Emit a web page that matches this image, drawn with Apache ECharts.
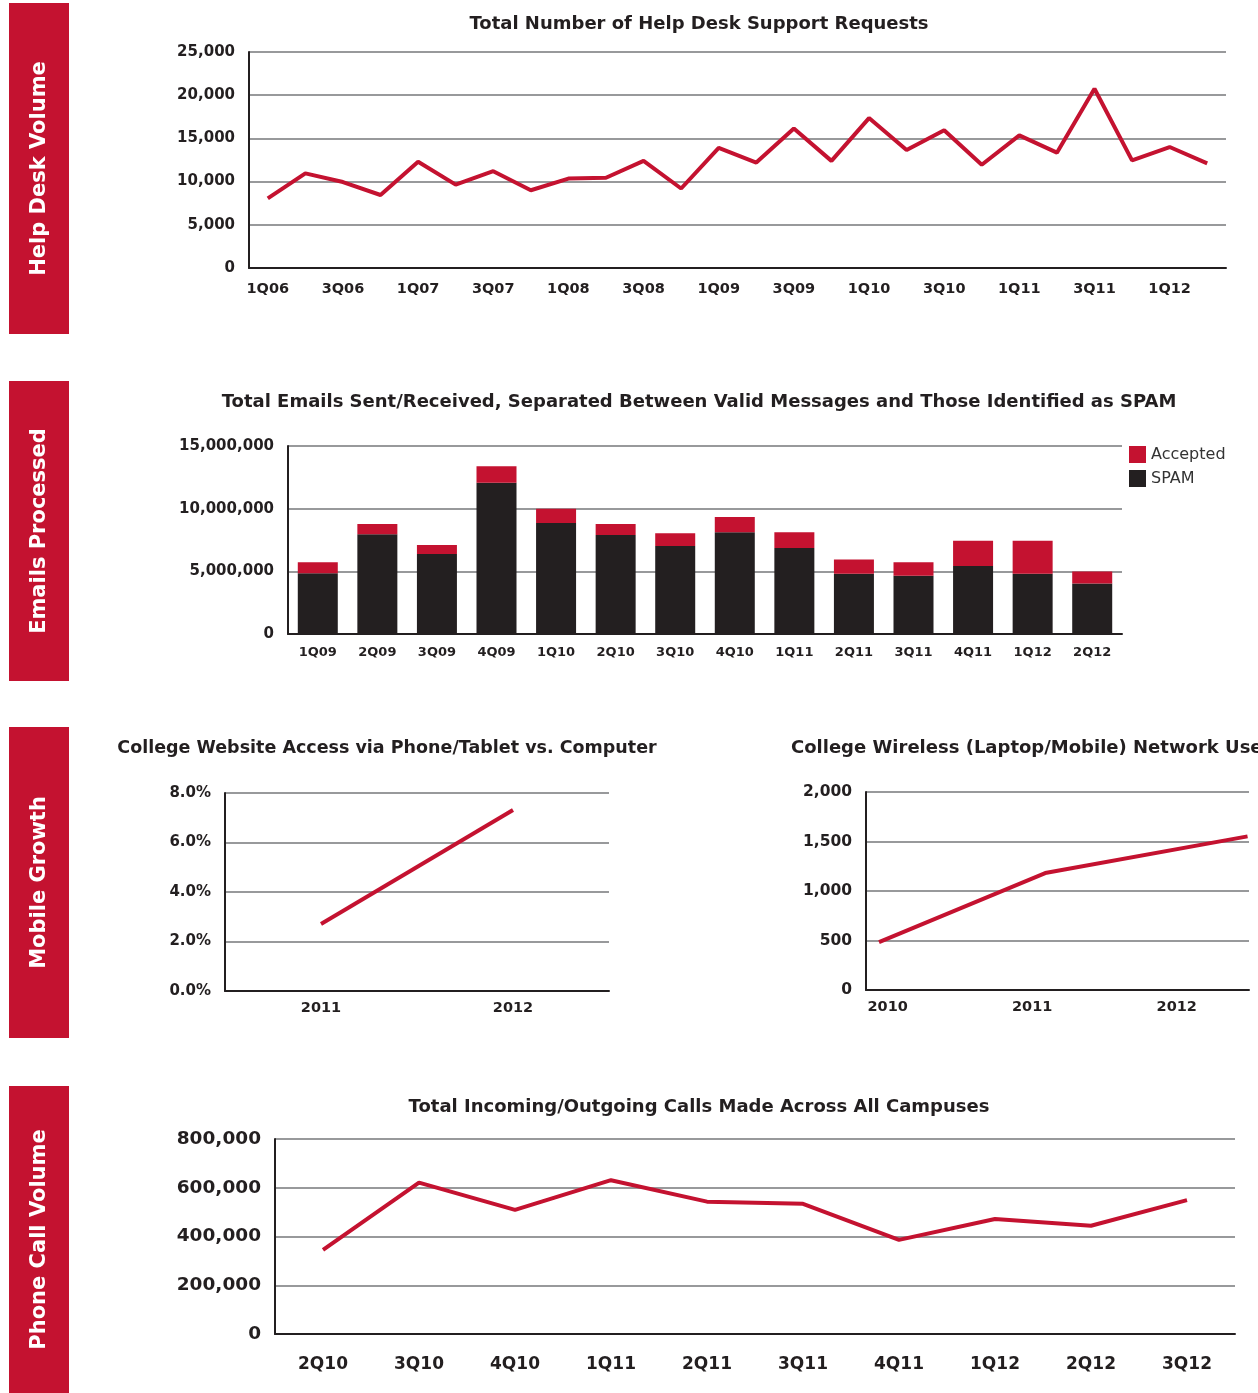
<!DOCTYPE html>
<html>
<head>
<meta charset="utf-8">
<script src="https://cdn.jsdelivr.net/npm/echarts@6/dist/echarts.min.js"></script>
<style>
  html, body { margin: 0; padding: 0; background: #fff; }
  #chart { width: 1258px; height: 1393px; }
</style>
</head>
<body>
<div id="chart"></div>
<script>
// help desk requests per quarter
const hdQuarters = ['1Q06','2Q06','3Q06','4Q06','1Q07','2Q07','3Q07','4Q07','1Q08','2Q08','3Q08','4Q08',
  '1Q09','2Q09','3Q09','4Q09','1Q10','2Q10','3Q10','4Q10','1Q11','2Q11','3Q11','4Q11','1Q12','2Q12'];
const hdRequests = [8050, 10950, 9950, 8450, 12300, 9650, 11200, 9000, 10350, 10450, 12400, 9200,
  13900, 12200, 16150, 12400, 17350, 13650, 15950, 11950, 15350, 13350, 20750, 12450, 14000, 12100];

// emails
const emailQuarters = ['1Q09','2Q09','3Q09','4Q09','1Q10','2Q10','3Q10','4Q10','1Q11','2Q11','3Q11','4Q11','1Q12','2Q12'];
const emailSpam = [4850000, 7950000, 6390000, 12060000, 8850000, 7900000, 7020000, 8110000, 6860000, 4800000, 4640000, 5430000, 4800000, 4030000];
const emailAccepted = [870000, 820000, 710000, 1320000, 1150000, 870000, 1010000, 1220000, 1250000, 1140000, 1080000, 2020000, 2650000, 950000];

// mobile growth
const webYears = ['2011', '2012'];
const webMobileShare = [2.71, 7.31];
const wirelessYears = [2009.94, 2011.09, 2012.49];
const wirelessUse = [483, 1181, 1552];
const wirelessTicks = [2010, 2011, 2012];

// phone calls
const callQuarters = ['2Q10','3Q10','4Q10','1Q11','2Q11','3Q11','4Q11','1Q12','2Q12','3Q12'];
const callVolume = [345000, 621000, 509000, 631000, 543000, 534000, 386000, 472000, 444000, 549000];

const RED = '#c41230';
const INK = '#231f20';
const GRID = '#98999b';
const FONT = '"DejaVu Sans", sans-serif';

const chart = echarts.init(document.getElementById('chart'));

const num = v => v.toLocaleString('en-US');

const valueY = (gridIndex, max, interval, size, fmt) => ({
  type: 'value',
  gridIndex: gridIndex,
  min: 0,
  max: max,
  interval: interval,
  axisLine: { show: true, lineStyle: { color: INK, width: 2 } },
  axisTick: { show: false },
  splitLine: { lineStyle: { color: GRID, width: 2 } },
  axisLabel: { color: INK, fontFamily: FONT, fontWeight: 'bold', fontSize: size, margin: 14, formatter: fmt || num }
});

const bottomLine = { show: true, lineStyle: { color: INK, width: 2 } };
const labelStyle = size => ({ color: INK, fontFamily: FONT, fontWeight: 'bold', fontSize: size });

// red side tabs
const tabs = [
  { text: 'Help Desk Volume', top: 3, bottom: 334 },
  { text: 'Emails Processed', top: 381, bottom: 681 },
  { text: 'Mobile Growth', top: 727, bottom: 1038 },
  { text: 'Phone Call Volume', top: 1086, bottom: 1393 }
];
const titles = [
  { text: 'Total Number of Help Desk Support Requests', x: 699, y: 24 },
  { text: 'Total Emails Sent/Received, Separated Between Valid Messages and Those Identified as SPAM', x: 699, y: 402 },
  { text: 'College Website Access via Phone/Tablet vs. Computer', x: 387, y: 748, size: 17.5 },
  { text: 'College Wireless (Laptop/Mobile) Network Use', x: 791, y: 748, align: 'left' },
  { text: 'Total Incoming/Outgoing Calls Made Across All Campuses', x: 699, y: 1107 }
];

const graphic = [];
tabs.forEach(t => {
  graphic.push({ type: 'rect', shape: { x: 9, y: t.top, width: 60, height: t.bottom - t.top }, style: { fill: RED } });
  graphic.push({
    type: 'text', x: 40, y: (t.top + t.bottom) / 2, rotation: Math.PI / 2,
    style: { text: t.text, fill: '#fff', font: 'bold 21px ' + FONT, textAlign: 'center', textVerticalAlign: 'middle' }
  });
});
titles.forEach(t => {
  graphic.push({
    type: 'text', x: t.x, y: t.y,
    style: { text: t.text, fill: INK, font: 'bold ' + (t.size || 18) + 'px ' + FONT, textAlign: t.align || 'center', textVerticalAlign: 'middle' }
  });
});

const option = {
  animation: false,
  backgroundColor: '#fff',
  graphic: graphic,
  legend: {
    data: ['Accepted', 'SPAM'],
    orient: 'vertical',
    left: 1129, top: 446, padding: 0,
    itemWidth: 17, itemHeight: 17, itemGap: 7,
    icon: 'rect',
    textStyle: { color: '#333', fontFamily: FONT, fontSize: 16 }
  },
  grid: [
    { left: 249, top: 52, width: 977, height: 216 },
    { left: 288, top: 446, width: 834, height: 188 },
    { left: 225, top: 793, width: 384, height: 198 },
    { left: 866, top: 792, width: 383, height: 198 },
    { left: 275, top: 1139, width: 960, height: 195 }
  ],
  xAxis: [
    {
      type: 'category', gridIndex: 0, data: hdQuarters,
      axisLine: bottomLine,
      axisTick: { interval: 0, length: 5, lineStyle: { color: INK, width: 2 } },
      axisLabel: Object.assign({ interval: 1, margin: 14 }, labelStyle(14.5))
    },
    {
      type: 'category', gridIndex: 0, data: hdQuarters, position: 'bottom',
      axisLine: { show: false },
      axisTick: { interval: 0, inside: true, length: 4, lineStyle: { color: INK, width: 2 } },
      axisLabel: { show: false }
    },
    {
      type: 'category', gridIndex: 1, data: emailQuarters,
      axisLine: bottomLine, axisTick: { show: false },
      axisLabel: Object.assign({ interval: 0, margin: 12 }, labelStyle(13))
    },
    {
      type: 'category', gridIndex: 2, data: webYears,
      axisLine: bottomLine, axisTick: { show: false },
      axisLabel: Object.assign({ margin: 10 }, labelStyle(14.5))
    },
    {
      type: 'value', gridIndex: 3, min: 2009.85, max: 2012.5,
      axisLine: bottomLine, axisTick: { show: false }, splitLine: { show: false },
      axisLabel: Object.assign({ customValues: wirelessTicks, margin: 10, formatter: v => String(v) }, labelStyle(14.5))
    },
    {
      type: 'category', gridIndex: 4, data: callQuarters,
      axisLine: bottomLine,
      axisTick: { interval: 0, length: 10, lineStyle: { color: INK, width: 2 } },
      axisLabel: Object.assign({ interval: 0, margin: 22 }, labelStyle(17))
    }
  ],
  yAxis: [
    valueY(0, 25000, 5000, 15),
    valueY(1, 15000000, 5000000, 15),
    valueY(2, 8, 2, 15, v => v.toFixed(1) + '%'),
    valueY(3, 2000, 500, 15.5),
    valueY(4, 800000, 200000, 18.5)
  ],
  series: [
    {
      type: 'line', xAxisIndex: 0, yAxisIndex: 0, data: hdRequests,
      symbol: 'none', lineStyle: { color: RED, width: 4 }
    },
    {
      name: 'SPAM', type: 'bar', stack: 'mail', xAxisIndex: 2, yAxisIndex: 1, data: emailSpam,
      barWidth: 40, itemStyle: { color: INK }
    },
    {
      name: 'Accepted', type: 'bar', stack: 'mail', xAxisIndex: 2, yAxisIndex: 1, data: emailAccepted,
      barWidth: 40, itemStyle: { color: RED }
    },
    {
      type: 'line', xAxisIndex: 3, yAxisIndex: 2, data: webMobileShare,
      symbol: 'none', lineStyle: { color: RED, width: 4 }
    },
    {
      type: 'line', xAxisIndex: 4, yAxisIndex: 3,
      data: wirelessYears.map((x, i) => [x, wirelessUse[i]]),
      symbol: 'none', lineStyle: { color: RED, width: 4 }
    },
    {
      type: 'line', xAxisIndex: 5, yAxisIndex: 4, data: callVolume,
      symbol: 'none', lineStyle: { color: RED, width: 4 }
    }
  ]
};

chart.setOption(option);
</script>
</body>
</html>
